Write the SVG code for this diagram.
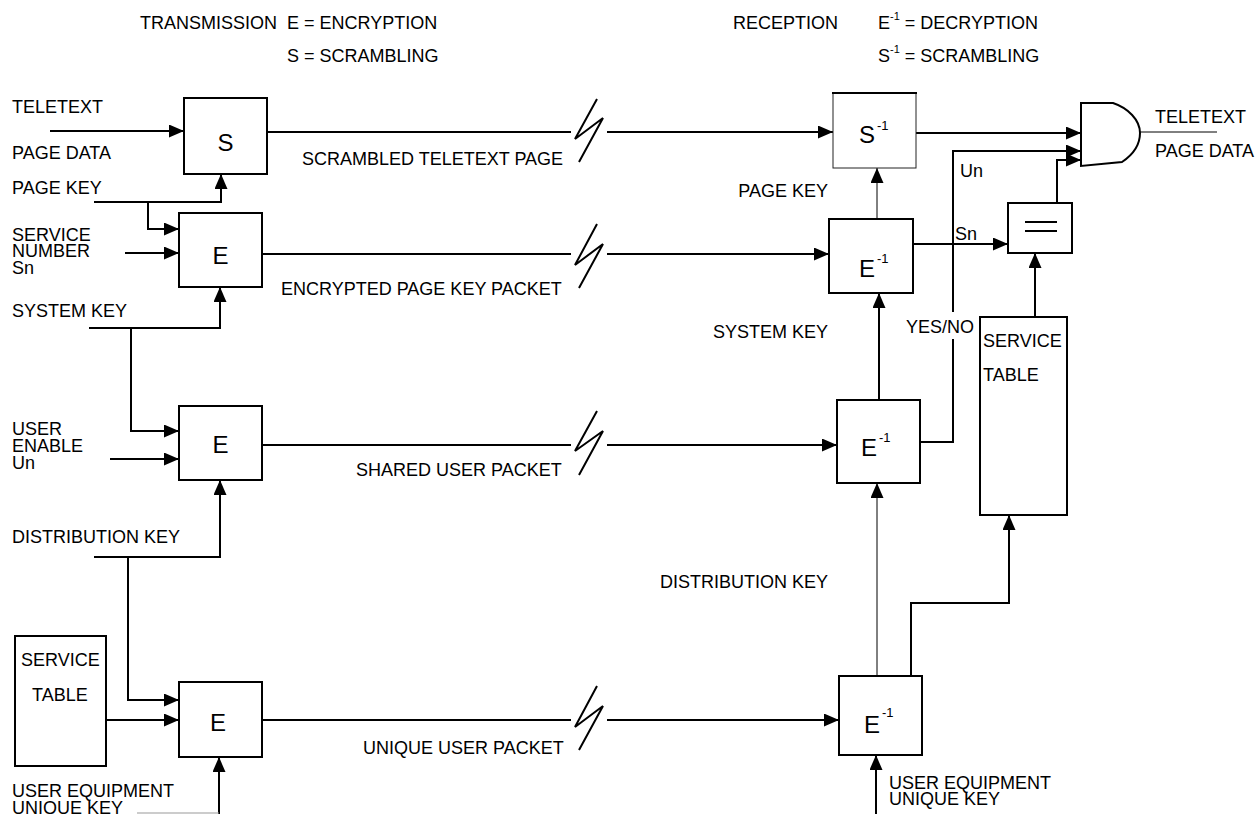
<svg xmlns="http://www.w3.org/2000/svg" width="1258" height="814" viewBox="0 0 1258 814">
<style>
text{font-family:"Liberation Sans",Arial,sans-serif;fill:#000}
.t{font-size:18px}
.big{font-size:24px}
.sup{font-size:13px}
.supS{font-size:11px}
.box{fill:#fff;stroke:#000;stroke-width:2}
.ln{fill:none;stroke:#000;stroke-width:2}
.thin{fill:none;stroke:#000;stroke-width:1}
.a{marker-end:url(#ah)}
</style>
<defs>
<marker id="ah" viewBox="0 0 15 13" refX="15" refY="6.5" markerUnits="userSpaceOnUse" markerWidth="15" markerHeight="13" orient="auto">
<path d="M0,0 L15,6.5 L0,13 Z" fill="#000"/>
</marker>
</defs>
<rect width="1258" height="814" fill="#fff"/>

<g id="legend">
<text class="t" x="140" y="29">TRANSMISSION</text>
<text class="t" x="287" y="29">E = ENCRYPTION</text>
<text class="t" x="287" y="62">S = SCRAMBLING</text>
<text class="t" x="733" y="29">RECEPTION</text>
<text class="t" x="878" y="29">E<tspan class="supS" dy="-9">-1</tspan><tspan dy="9"> = DECRYPTION</tspan></text>
<text class="t" x="878" y="62">S<tspan class="supS" dy="-9">-1</tspan><tspan dy="9"> = SCRAMBLING</tspan></text>
</g>

<g id="connectors">
<!-- transmitter inputs -->
<polyline class="ln a" points="50,131 184,131"/>
<polyline class="ln a" points="94,202 221,202 221,174"/>
<polyline class="ln a" points="148,202 148,229 179,229"/>
<polyline class="ln a" points="125,253 179,253"/>
<polyline class="ln a" points="89,328 220,328 220,287"/>
<polyline class="ln a" points="131,328 131,431 179,431"/>
<polyline class="ln a" points="110,459 179,459"/>
<polyline class="ln a" points="94,557 220,557 220,480"/>
<polyline class="ln a" points="128,557 128,700 179,700"/>
<polyline class="ln a" points="106,720 179,720"/>
<polyline class="ln a" points="219,814 219,757"/>
<line x1="137" y1="813" x2="219" y2="813" stroke="#999" stroke-width="1"/>

<!-- transmission links with break symbols -->
<line class="ln" x1="267" y1="132" x2="571" y2="132"/>
<polyline class="ln" points="597,99 575,139 603,118 579,162"/>
<polyline class="ln a" points="607,132 833,132"/>

<line class="ln" x1="262" y1="254" x2="571" y2="254"/>
<polyline class="ln" points="597,224 575,265 603,244 579,288"/>
<polyline class="ln a" points="607,254 829,254"/>

<line class="ln" x1="262" y1="445" x2="571" y2="445"/>
<polyline class="ln" points="597,411 575,451 603,431 579,475"/>
<polyline class="ln a" points="607,445 837,445"/>

<line class="ln" x1="262" y1="720" x2="571" y2="720" stroke-width="1.5"/>
<polyline class="ln" points="597,686 575,727 603,706 579,750"/>
<polyline class="ln a" points="607,720 839,720"/>

<!-- receiver -->
<polyline class="ln a" points="916,133 1081,133"/>
<polyline class="ln" points="920,442 953,442 953,339"/>
<polyline class="ln a" points="953,312 953,151 1081,151"/>
<polyline class="ln a" points="1057,203 1057,160 1081,160"/>
<polyline class="ln a" points="913,244 1008,244"/>
<polyline class="thin a" points="877,219 877,168"/>
<polyline class="ln a" points="879,400 879,293"/>
<polyline class="ln a" points="1035,317 1035,253"/>
<polyline class="thin a" points="877,676 877,483"/>
<polyline class="ln a" points="911,677 911,603 1009,603 1009,515"/>
<polyline class="ln a" points="876,814 876,755"/>
<line class="thin" x1="1140" y1="132" x2="1217" y2="132"/>
</g>

<g id="tx-labels">
<text class="t" x="12" y="113">TELETEXT</text>
<text class="t" x="12" y="159">PAGE DATA</text>
<text class="t" x="12" y="194">PAGE KEY</text>
<text class="t" x="12" y="241">SERVICE</text>
<text class="t" x="12" y="257">NUMBER</text>
<text class="t" x="12" y="274">Sn</text>
<text class="t" x="12" y="317">SYSTEM KEY</text>
<text class="t" x="12" y="435">USER</text>
<text class="t" x="12" y="452">ENABLE</text>
<text class="t" x="12" y="469">Un</text>
<text class="t" x="12" y="543">DISTRIBUTION KEY</text>
<text class="t" x="12" y="797">USER EQUIPMENT</text>
<text class="t" x="12" y="814">UNIQUE KEY</text>
<text class="t" x="302" y="165">SCRAMBLED TELETEXT PAGE</text>
<text class="t" x="281" y="295">ENCRYPTED PAGE KEY PACKET</text>
<text class="t" x="356" y="476">SHARED USER PACKET</text>
<text class="t" x="363" y="754">UNIQUE USER PACKET</text>
</g>

<g id="rx-labels">
<text class="t" x="828" y="197" text-anchor="end">PAGE KEY</text>
<text class="t" x="828" y="338" text-anchor="end">SYSTEM KEY</text>
<text class="t" x="828" y="588" text-anchor="end">DISTRIBUTION KEY</text>
<text class="t" x="906" y="333">YES/NO</text>
<text class="t" x="960" y="177">Un</text>
<text class="t" x="955" y="240">Sn</text>
<text class="t" x="1155" y="123">TELETEXT</text>
<text class="t" x="1155" y="157">PAGE DATA</text>
<text class="t" x="889" y="789">USER EQUIPMENT</text>
<text class="t" x="889" y="805">UNIQUE KEY</text>
</g>

<g id="S-tx">
<rect class="box" x="184" y="98" width="83" height="76"/>
<text class="big" x="225.5" y="151" text-anchor="middle">S</text>
</g>
<g id="E1-tx">
<rect class="box" x="179" y="213" width="83" height="74"/>
<text class="big" x="220.5" y="264" text-anchor="middle">E</text>
</g>
<g id="E2-tx">
<rect class="box" x="179" y="406" width="83" height="74"/>
<text class="big" x="220.5" y="453" text-anchor="middle">E</text>
</g>
<g id="E3-tx">
<rect class="box" x="179" y="682" width="83" height="75"/>
<text class="big" x="218" y="731" text-anchor="middle">E</text>
</g>
<g id="service-table-tx">
<rect class="box" x="15" y="636" width="91" height="130"/>
<text class="t" x="21" y="666">SERVICE</text>
<text class="t" x="32" y="701">TABLE</text>
</g>

<g id="S-rx">
<rect x="833" y="93" width="83" height="75" fill="#fff" stroke="#222" stroke-width="1"/>
<line x1="832" y1="93" x2="917" y2="93" stroke="#000" stroke-width="2"/>
<text class="big" x="859" y="143">S</text>
<text class="sup" x="877" y="130">-1</text>
</g>
<g id="E1-rx">
<rect class="box" x="829" y="219" width="84" height="74"/>
<text class="big" x="859" y="277">E</text>
<text class="sup" x="877" y="263">-1</text>
</g>
<g id="E2-rx">
<rect class="box" x="837" y="400" width="83" height="83"/>
<text class="big" x="861" y="456">E</text>
<text class="sup" x="879" y="442">-1</text>
</g>
<g id="E3-rx">
<rect class="box" x="839" y="676" width="83" height="79"/>
<text class="big" x="864" y="733">E</text>
<text class="sup" x="882" y="717">-1</text>
</g>
<g id="compare">
<rect class="box" x="1008" y="203" width="64" height="50"/>
<line class="ln" x1="1025" y1="222" x2="1057" y2="222"/>
<line class="ln" x1="1025" y1="231" x2="1057" y2="231"/>
</g>
<g id="service-table-rx">
<rect class="box" x="980" y="317" width="87" height="198"/>
<text class="t" x="983" y="347">SERVICE</text>
<text class="t" x="983" y="381">TABLE</text>
</g>
<g id="and-gate">
<path class="box" d="M1081,103 L1113,103 C1128,108 1140,120 1140,133 C1140,146 1131,156 1122,162 L1081,166 Z"/>
</g>
</svg>
